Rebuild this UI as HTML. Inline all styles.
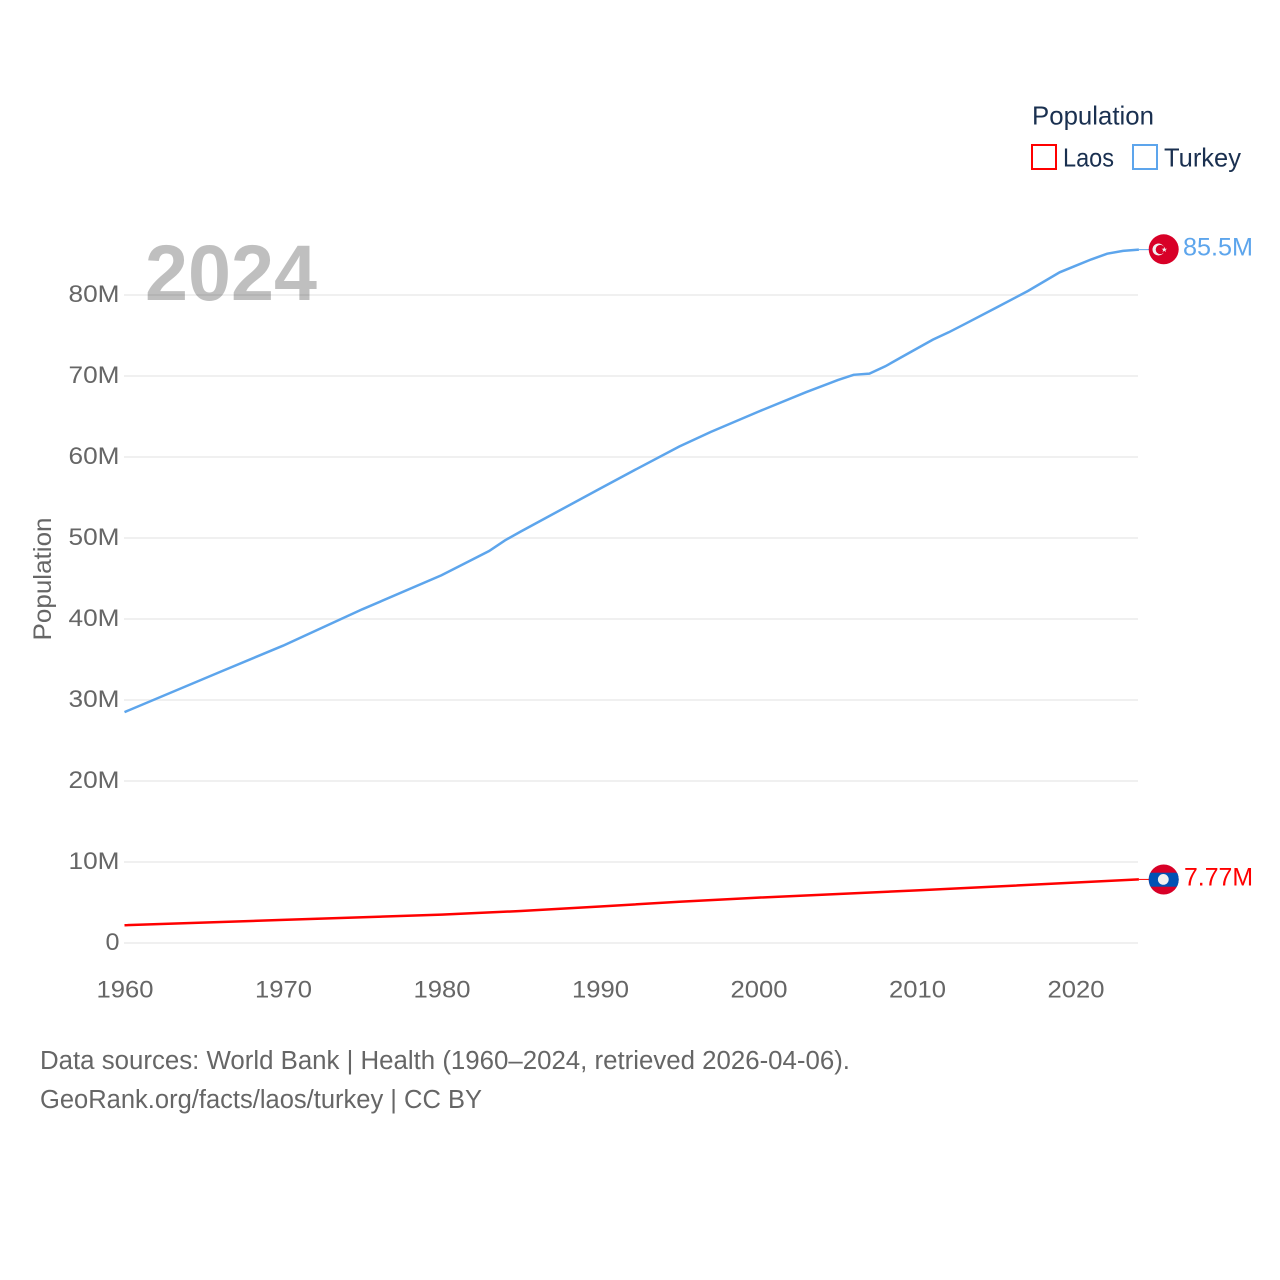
<!DOCTYPE html>
<html lang="en">
<head>
<meta charset="utf-8">
<title>Population: Laos and Turkey</title>
<style>
html,body{margin:0;padding:0;background:#fff;width:1280px;height:1280px;overflow:hidden}
svg{display:block;font-family:"Liberation Sans",Arial,sans-serif}
</style>
</head>
<body>
<svg id="chart" width="1280" height="1280" viewBox="0 0 1280 1280" xmlns="http://www.w3.org/2000/svg">
  <defs>
    <clipPath id="laos-clip"><circle cx="1163.7" cy="879.5" r="15"></circle></clipPath>
  </defs>
  <rect width="1280" height="1280" fill="#fff"></rect>
  <g id="grid"></g>
  <text x="145" y="300" font-size="79" font-weight="700" fill="#000" fill-opacity="0.25" textLength="172" lengthAdjust="spacingAndGlyphs">2024</text>
  <g id="y-axis"></g>
  <g id="x-axis"></g>
  <text transform="translate(51 579) rotate(-90)" text-anchor="middle" font-size="25" fill="#666" textLength="123" lengthAdjust="spacingAndGlyphs">Population</text>
  <g id="series"></g>

  <g>
    <text x="1032" y="124.5" font-size="26" fill="#1a3050" textLength="122" lengthAdjust="spacingAndGlyphs">Population</text>
    <rect x="1032" y="145" width="24" height="24" fill="#fff" stroke="#ff0000" stroke-width="2"></rect>
    <text x="1063" y="166.5" font-size="26" fill="#1a3050" textLength="51" lengthAdjust="spacingAndGlyphs">Laos</text>
    <rect x="1133" y="145" width="24" height="24" fill="#fff" stroke="#5da5ec" stroke-width="2"></rect>
    <text x="1164" y="166.5" font-size="26" fill="#1a3050" textLength="77" lengthAdjust="spacingAndGlyphs">Turkey</text>
  </g>

  <g>
    <circle cx="1163.7" cy="249.3" r="15" fill="#d80027"></circle>
    <circle cx="1158.5" cy="249.5" r="6" fill="#f0f0f0"></circle>
    <circle cx="1160.3" cy="249.5" r="4.6" fill="#d80027"></circle>
    <polygon points="1164.3,246.8 1165,248.8 1167,248.8 1165.4,250 1166,252 1164.3,250.8 1162.6,252 1163.2,250 1161.6,248.8 1163.6,248.8" fill="#f0f0f0"></polygon>
  </g>
  <g clip-path="url(#laos-clip)">
    <rect x="1148" y="864" width="32" height="31" fill="#d80027"></rect>
    <rect x="1148" y="872.7" width="32" height="14" fill="#0052b4"></rect>
    <circle cx="1163.3" cy="879.4" r="5.4" fill="#f0f0f0"></circle>
  </g>

  <text x="1183" y="255.5" font-size="25" fill="#5da5ec" textLength="70" lengthAdjust="spacingAndGlyphs">85.5M</text>
  <text x="1184" y="885.5" font-size="25" fill="#ff0000" textLength="69" lengthAdjust="spacingAndGlyphs">7.77M</text>

  <text x="40" y="1069" font-size="25.5" fill="#666" textLength="810" lengthAdjust="spacingAndGlyphs">Data sources: World Bank | Health (1960–2024, retrieved 2026-04-06).</text>
  <text x="40" y="1108" font-size="25.5" fill="#666" textLength="442" lengthAdjust="spacingAndGlyphs">GeoRank.org/facts/laos/turkey | CC BY</text>
</svg>
<script>
const yTicks = [0, 10, 20, 30, 40, 50, 60, 70, 80];
const yTickLabels = ['0', '10M', '20M', '30M', '40M', '50M', '60M', '70M', '80M'];
const xTicks = [1960, 1970, 1980, 1990, 2000, 2010, 2020];
const turkeyYears = [1960, 1966, 1970, 1975, 1980, 1982, 1983, 1984, 1985, 1990, 1992, 1995, 1997, 2000, 2003, 2005, 2006, 2007, 2008, 2009, 2010, 2011, 2012, 2013, 2015, 2017, 2019, 2020, 2021, 2022, 2023, 2024];
const turkeyValues = [28.5, 33.45, 36.7, 41.2, 45.4, 47.4, 48.4, 49.7, 50.8, 56.1, 58.2, 61.3, 63.1, 65.6, 68.0, 69.5, 70.15, 70.3, 71.2, 72.3, 73.4, 74.5, 75.4, 76.4, 78.45, 80.5, 82.8, 83.6, 84.4, 85.1, 85.45, 85.6];
const laosYears = [1960, 1970, 1980, 1985, 1990, 1995, 2000, 2010, 2024];
const laosValues = [2.2, 2.85, 3.5, 3.95, 4.5, 5.1, 5.6, 6.5, 7.85];

const NS = 'http://www.w3.org/2000/svg';
const xScale = function (year) { return 124.5 + (year - 1960) * 15.85; };
const yScale = function (value) { return 943 - value * 8.1; };
const plotRight = 1138;

const grid = document.getElementById('grid');
const yAxis = document.getElementById('y-axis');
const xAxis = document.getElementById('x-axis');
const series = document.getElementById('series');

yTicks.forEach(function (tick, i) {
  const line = document.createElementNS(NS, 'line');
  
  
  line.setAttribute('x1', 124);
  line.setAttribute('x2', plotRight);
  line.setAttribute('y1', yScale(tick));
  line.setAttribute('y2', yScale(tick));
  line.setAttribute('stroke', '#f0f0f0');
  line.setAttribute('stroke-width', 2);
  grid.appendChild(line);

  const label = document.createElementNS(NS, 'text');
  
  
  label.setAttribute('x', 119.5);
  label.setAttribute('y', yScale(tick) + 7);
  label.setAttribute('text-anchor', 'end');
  label.setAttribute('font-size', 24.5);
  label.setAttribute('fill', '#666');
  label.setAttribute('textLength', tick === 0 ? 14 : 51);
  label.setAttribute('lengthAdjust', 'spacingAndGlyphs');
  label.textContent = yTickLabels[i];
  yAxis.appendChild(label);
});

xTicks.forEach(function (tick) {
  const label = document.createElementNS(NS, 'text');
  
  
  label.setAttribute('x', xScale(tick) + 0.5);
  label.setAttribute('y', 997.5);
  label.setAttribute('text-anchor', 'middle');
  label.setAttribute('font-size', 24.5);
  label.setAttribute('fill', '#666');
  label.setAttribute('textLength', 57);
  label.setAttribute('lengthAdjust', 'spacingAndGlyphs');
  label.textContent = String(tick);
  xAxis.appendChild(label);
});

function pathFor(years, values) {
  return years.map(function (year, i) {
    return (i ? 'L' : 'M') + xScale(year).toFixed(1) + ' ' + yScale(values[i]).toFixed(1);
  }).join(' ');
}

const laosLine = document.createElementNS(NS, 'path');


laosLine.setAttribute('d', pathFor(laosYears, laosValues));
laosLine.setAttribute('fill', 'none');
laosLine.setAttribute('stroke', '#ff0000');
laosLine.setAttribute('stroke-width', 2.5);
series.appendChild(laosLine);

const turkeyLine = document.createElementNS(NS, 'path');


turkeyLine.setAttribute('d', pathFor(turkeyYears, turkeyValues));
turkeyLine.setAttribute('fill', 'none');
turkeyLine.setAttribute('stroke', '#5da5ec');
turkeyLine.setAttribute('stroke-width', 2.5);
series.appendChild(turkeyLine);

const laosLeader = document.createElementNS(NS, 'line');


laosLeader.setAttribute('x1', xScale(2024));
laosLeader.setAttribute('x2', 1150);
laosLeader.setAttribute('y1', yScale(laosValues[laosValues.length - 1]));
laosLeader.setAttribute('y2', yScale(laosValues[laosValues.length - 1]));
laosLeader.setAttribute('stroke', '#ff0000');
laosLeader.setAttribute('stroke-width', 1);
series.appendChild(laosLeader);

const turkeyLeader = document.createElementNS(NS, 'line');


turkeyLeader.setAttribute('x1', xScale(2024));
turkeyLeader.setAttribute('x2', 1150);
turkeyLeader.setAttribute('y1', yScale(turkeyValues[turkeyValues.length - 1]));
turkeyLeader.setAttribute('y2', yScale(turkeyValues[turkeyValues.length - 1]));
turkeyLeader.setAttribute('stroke', '#5da5ec');
turkeyLeader.setAttribute('stroke-width', 1);
series.appendChild(turkeyLeader);
</script>
</body>
</html>
